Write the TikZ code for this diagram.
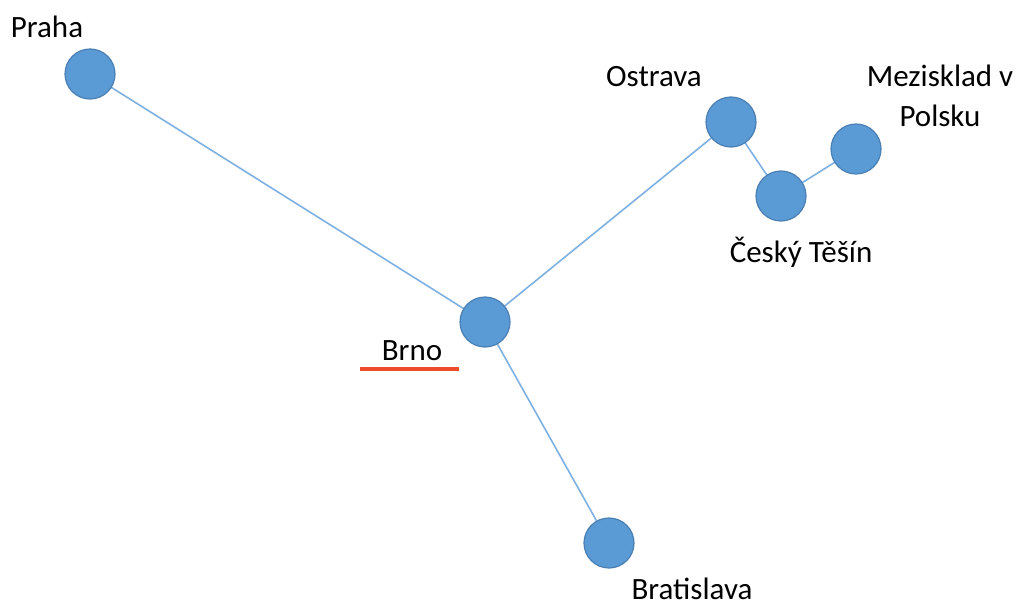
\documentclass[tikz,border=0pt]{standalone}
\usepackage{fontspec}
\setmainfont{Carlito}
\usetikzlibrary{backgrounds}
\definecolor{nodefill}{HTML}{5B9BD5}
\definecolor{nodeedge}{HTML}{4A7FB3}
\definecolor{linkc}{HTML}{7FB0E2}
\definecolor{redline}{HTML}{EE4B2B}
\begin{document}
\begin{tikzpicture}[x=1pt,y=-1pt,
  city/.style={circle,fill=nodefill,draw=nodeedge,line width=1.2pt,minimum size=50pt,inner sep=0pt},
  lbl/.style={anchor=base,inner sep=0pt,font=\fontsize{31}{39}\selectfont,text=black},
  link/.style={draw=linkc,line width=1.6pt},
  mark line/.style={draw=redline,line width=4pt}]
\useasboundingbox (0,0) rectangle (1023,610);
\node[city] (praha) at (90,74) {};
\node[city] (brno) at (485,322) {};
\node[city] (ostrava) at (731,122) {};
\node[city] (tesin) at (781,196) {};
\node[city] (polsko) at (856,149) {};
\node[city] (bratislava) at (609,543) {};
\node[lbl] (tpraha) at (47,38) {Praha};
\node[lbl] (tostrava) at (654,87) {Ostrava};
\node[lbl] (tpolsko1) at (940,87) {Mezisklad v};
\node[lbl] (tpolsko2) at (940,126) {Polsku};
\node[lbl] (ttesin) at (801,262) {Český Těšín};
\node[lbl] (tbrno) at (412,360) {Brno};
\node[lbl] (tbratislava) at (692,599) {Bratislava};
\coordinate (ra) at (360,369);
\coordinate (rb) at (459,369);
\path[mark line] (ra) -- (rb);
\begin{scope}[on background layer]
\path[link] (praha.center) -- (brno.center);
\path[link] (brno.center) -- (ostrava.center);
\path[link] (brno.center) -- (bratislava.center);
\path[link] (ostrava.center) -- (tesin.center);
\path[link] (tesin.center) -- (polsko.center);
\end{scope}
\end{tikzpicture}
\end{document}
